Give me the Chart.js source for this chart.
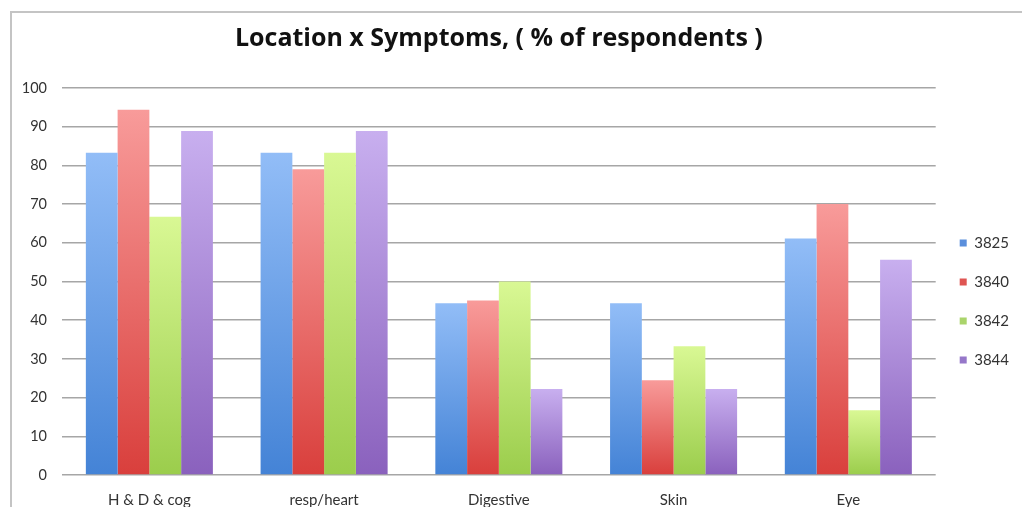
<!DOCTYPE html>
<html>
<head>
<meta charset="utf-8">
<script src="https://cdn.jsdelivr.net/npm/chart.js@4"></script>
<style>
  html, body { margin: 0; padding: 0; background: #fff; overflow: hidden; }
  #wrap { position: relative; width: 1022px; height: 507px; }
  #frame {
    position: absolute; left: 10px; top: 11px; width: 1040px; height: 520px;
    border: 2px solid #c4c4c4; box-sizing: border-box;
  }
  #chart { position: absolute; left: 0; top: 0; }
</style>
</head>
<body>
<div id="wrap">
  <div id="frame"></div>
  <canvas id="chart" width="1022" height="507"></canvas>
</div>
<script>
// Symptom groups along the x axis
const categories = ['H & D & cog', 'resp/heart', 'Digestive', 'Skin', 'Eye'];

// Share of respondents (%) reporting each symptom group, per location
const seriesNames = ['3825', '3840', '3842', '3844'];
const loc3825 = [83.3, 83.3, 44.4, 44.4, 61.1];
const loc3840 = [94.4, 79.0, 45.1, 24.5, 70.0];
const loc3842 = [66.7, 83.3, 50.0, 33.3, 16.7];
const loc3844 = [88.9, 88.9, 22.2, 22.2, 55.6];
const seriesValues = [loc3825, loc3840, loc3842, loc3844];

// Bar styling: light top, saturated bottom
const topColors    = ['#92bdf7', '#f89b9a', '#d9f894', '#c8afef'];
const bottomColors = ['#4483d6', '#d93f3c', '#9bcd4c', '#8a61bd'];
const keyColors    = ['#5b8fdc', '#df5552', '#aad46b', '#9677c9'];

const FONT = 'Lato, "Open Sans", "DejaVu Sans", sans-serif';

function barFill(i) {
  return (ctx) => {
    const chart = ctx.chart;
    if (!chart.chartArea || ctx.type !== 'data') return bottomColors[i];
    const y = chart.scales.y;
    const yTop = y.getPixelForValue(ctx.raw);
    const yBase = y.getPixelForValue(0);
    const g = chart.ctx.createLinearGradient(0, yTop, 0, yBase);
    g.addColorStop(0, topColors[i]);
    g.addColorStop(1, bottomColors[i]);
    return g;
  };
}

new Chart(document.getElementById('chart'), {
  type: 'bar',
  data: {
    labels: categories,
    datasets: seriesValues.map((vals, i) => ({
      label: seriesNames[i],
      data: vals,
      backgroundColor: barFill(i),
      borderWidth: 0,
      categoryPercentage: 0.727,
      barPercentage: 1.0
    }))
  },
  options: {
    responsive: false,
    animation: false,
    layout: { padding: { left: 0, right: 3, top: 0, bottom: 0 } },
    plugins: {
      title: {
        display: true,
        fullSize: false,
        text: 'Location x Symptoms, ( % of respondents )',
        color: '#111',
        font: { family: '"Open Sans", Lato, sans-serif', size: 25, weight: 'bold' },
        padding: { top: 24, bottom: 34 }
      },
      legend: {
        position: 'right',
        title: { display: true, text: '', font: { size: 12 }, padding: { top: 81.6, bottom: 0 } },
        labels: {
          boxWidth: 7,
          boxHeight: 7,
          padding: 24,
          color: '#333',
          font: { family: FONT, size: 15 },
          generateLabels: (chart) => chart.data.datasets.map((ds, i) => ({
            text: ds.label,
            fillStyle: keyColors[i],
            strokeStyle: keyColors[i],
            lineWidth: 0,
            hidden: false,
            datasetIndex: i,
            fontColor: '#333'
          }))
        }
      },
      tooltip: { enabled: false }
    },
    scales: {
      x: {
        grid: { display: false },
        border: { display: false },
        ticks: { color: '#333', font: { family: FONT, size: 15 }, padding: 8 },
        afterFit: (s) => { s.height = 32; }
      },
      y: {
        min: 0,
        max: 100,
        ticks: { stepSize: 10, color: '#333', font: { family: FONT, size: 14.5 }, padding: 15 },
        grid: { color: '#a6a6a6', lineWidth: 1.5, drawTicks: false },
        border: { display: false },
        afterFit: (s) => { s.width = 62; }
      }
    }
  }
});
</script>
</body>
</html>
